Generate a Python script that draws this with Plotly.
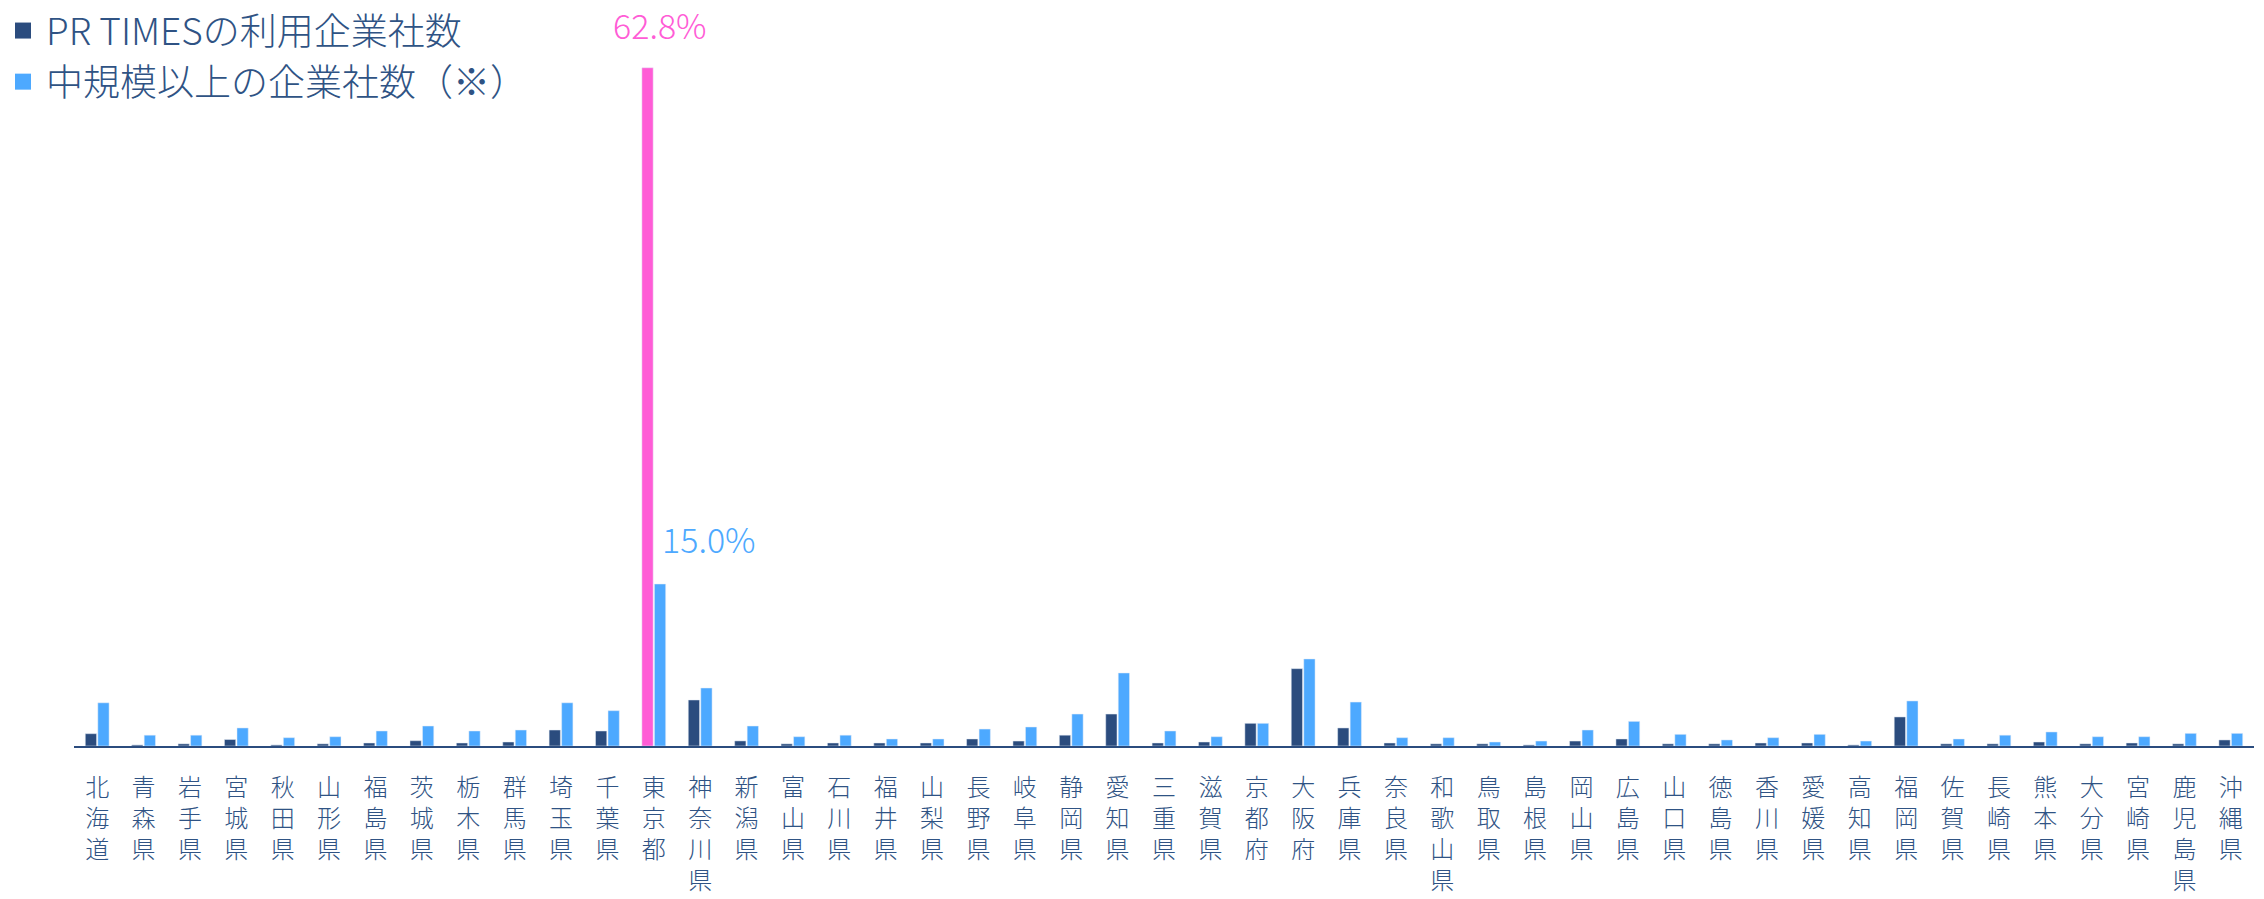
import plotly.graph_objects as go

prefectures = ["北海道","青森県","岩手県","宮城県","秋田県","山形県","福島県","茨城県","栃木県","群馬県",
               "埼玉県","千葉県","東京都","神奈川県","新潟県","富山県","石川県","福井県","山梨県","長野県",
               "岐阜県","静岡県","愛知県","三重県","滋賀県","京都府","大阪府","兵庫県","奈良県","和歌山県",
               "鳥取県","島根県","岡山県","広島県","山口県","徳島県","香川県","愛媛県","高知県","福岡県",
               "佐賀県","長崎県","熊本県","大分県","宮崎県","鹿児島県","沖縄県"]

prtimes = [1.14,0.10,0.20,0.60,0.10,0.20,0.28,0.49,0.28,0.37,
           1.48,1.39,62.8,4.26,0.47,0.20,0.28,0.28,0.28,0.65,
           0.46,1.00,2.96,0.28,0.37,2.10,7.16,1.67,0.28,0.20,
           0.20,0.10,0.46,0.65,0.20,0.20,0.28,0.28,0.10,2.69,
           0.20,0.20,0.37,0.20,0.28,0.20,0.56]

midsize = [4.00,1.00,1.00,1.67,0.77,0.86,1.39,1.85,1.39,1.48,
           4.00,3.27,15.0,5.37,1.85,0.86,1.00,0.65,0.65,1.57,
           1.76,2.96,6.76,1.39,0.86,2.10,8.06,4.07,0.77,0.77,
           0.37,0.46,1.48,2.28,1.08,0.56,0.77,1.08,0.46,4.17,
           0.65,1.00,1.30,0.86,0.86,1.17,1.17]

series_names = ["PR TIMESの利用企業社数", "中規模以上の企業社数（※）"]

DARK = "#2B4C7E"
LIGHT = "#4DA9FF"
PINK = "#FF5CD6"
TXT = "#2F5384"
FONT = "Noto Sans CJK JP"

tick_text = ["<br>".join(list(p)) for p in prefectures]
dark_colors = [PINK if p == "東京都" else DARK for p in prefectures]

fig = go.Figure()
fig.add_trace(go.Bar(x=prefectures, y=prtimes, marker_color=dark_colors, showlegend=False, name=series_names[0]))
fig.add_trace(go.Bar(x=prefectures, y=midsize, marker_color=LIGHT, showlegend=False, name=series_names[1]))
# legend entries
fig.add_trace(go.Scatter(x=[None], y=[None], mode="markers", name=series_names[0],
                         marker=dict(symbol="square", size=16, color=DARK)))
fig.add_trace(go.Scatter(x=[None], y=[None], mode="markers", name=series_names[1],
                         marker=dict(symbol="square", size=16, color=LIGHT)))

tokyo = prefectures.index("東京都")
fig.add_annotation(x=prefectures[tokyo], y=prtimes[tokyo], text=f"{prtimes[tokyo]:.1f}%",
                   showarrow=False, yshift=43, xshift=6, font=dict(size=34, color=PINK, family=FONT, weight=300))
fig.add_annotation(x=prefectures[tokyo], y=midsize[tokyo], text=f"{midsize[tokyo]:.1f}%",
                   showarrow=False, yshift=46, xshift=55, font=dict(size=34, color=LIGHT, family=FONT, weight=300))

fig.update_layout(
    width=2264, height=899,
    margin=dict(l=74, r=10, t=44, b=153, autoexpand=False),
    paper_bgcolor="white", plot_bgcolor="white",
    barmode="group", bargap=0.46, bargroupgap=0.1,
    font=dict(family=FONT, color=TXT),
    legend=dict(x=0, y=1, xref="container", yref="container", xanchor="left", yanchor="top",
                font=dict(size=37, color=TXT, family=FONT, weight=300), bgcolor="rgba(0,0,0,0)",
                itemsizing="trace", tracegroupgap=0, itemwidth=36),
    xaxis=dict(tickmode="array", tickvals=prefectures, ticktext=tick_text,
               tickfont=dict(size=24, color=TXT, family=FONT, weight=300), showline=True, linecolor=DARK,
               linewidth=2, ticks="", showgrid=False, tickangle=0, ticklabelstandoff=19),
    yaxis=dict(range=[0, 65], visible=False, showgrid=False, zeroline=False),
)
fig.update_xaxes(automargin=False)
fig.update_yaxes(automargin=False)
fig.write_html("out.html")
